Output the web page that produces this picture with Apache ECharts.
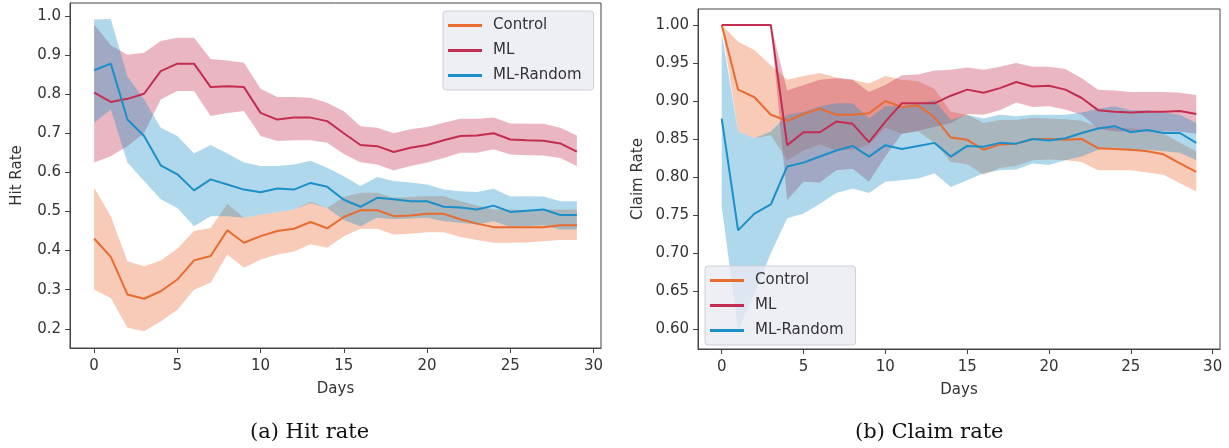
<!DOCTYPE html>
<html>
<head>
<meta charset="utf-8">
<script src="https://cdn.jsdelivr.net/npm/echarts@6/dist/echarts.min.js"></script>
<style>
  html, body { margin: 0; background: #fff; }
  #chart-container { width: 1229px; height: 448px; }
</style>
</head>
<body>
<div id="chart-container"></div>
<script>
// days on the x axis
const days = [0, 1, 2, 3, 4, 5, 6, 7, 8, 9, 10, 11, 12, 13, 14, 15, 16, 17, 18, 19, 20, 21, 22, 23, 24, 25, 26, 27, 28, 29];
const seriesNames = ["Control", "ML", "ML-Random"];
const xTicks = [0, 5, 10, 15, 20, 25, 30];
const hitTicks = [0.2, 0.3, 0.4, 0.5, 0.6, 0.7, 0.8, 0.9, 1.0];
const claimTicks = [0.6, 0.65, 0.7, 0.75, 0.8, 0.85, 0.9, 0.95, 1.0];

// (a) hit rate
const hitControl = [0.431, 0.384, 0.288, 0.277, 0.296, 0.326, 0.375, 0.386, 0.452, 0.420, 0.437, 0.450, 0.456, 0.473, 0.457, 0.486, 0.503, 0.503, 0.488, 0.490, 0.494, 0.494, 0.480, 0.469, 0.460, 0.460, 0.460, 0.460, 0.465, 0.465];
const hitControlHi = [0.561, 0.488, 0.373, 0.360, 0.375, 0.405, 0.450, 0.458, 0.520, 0.484, 0.492, 0.498, 0.505, 0.525, 0.509, 0.537, 0.548, 0.548, 0.535, 0.537, 0.539, 0.539, 0.526, 0.515, 0.505, 0.505, 0.504, 0.505, 0.505, 0.505];
const hitControlLo = [0.300, 0.279, 0.203, 0.194, 0.219, 0.249, 0.300, 0.318, 0.390, 0.356, 0.377, 0.390, 0.398, 0.416, 0.407, 0.437, 0.456, 0.456, 0.441, 0.443, 0.447, 0.447, 0.435, 0.427, 0.420, 0.420, 0.421, 0.424, 0.427, 0.427];

const hitML = [0.804, 0.780, 0.788, 0.801, 0.859, 0.878, 0.878, 0.818, 0.820, 0.818, 0.752, 0.735, 0.740, 0.740, 0.731, 0.700, 0.670, 0.667, 0.652, 0.663, 0.670, 0.682, 0.693, 0.694, 0.700, 0.684, 0.682, 0.681, 0.674, 0.653];
const hitMLHi = [0.978, 0.925, 0.901, 0.906, 0.936, 0.944, 0.944, 0.890, 0.886, 0.880, 0.814, 0.793, 0.793, 0.791, 0.778, 0.756, 0.718, 0.714, 0.700, 0.710, 0.716, 0.727, 0.737, 0.737, 0.740, 0.725, 0.724, 0.724, 0.714, 0.694];
const hitMLLo = [0.625, 0.641, 0.667, 0.700, 0.786, 0.808, 0.808, 0.744, 0.752, 0.757, 0.693, 0.680, 0.682, 0.682, 0.676, 0.647, 0.626, 0.620, 0.605, 0.616, 0.625, 0.637, 0.650, 0.650, 0.659, 0.646, 0.644, 0.643, 0.637, 0.616];

const hitRandom = [0.861, 0.878, 0.735, 0.693, 0.618, 0.595, 0.554, 0.582, 0.569, 0.556, 0.549, 0.559, 0.556, 0.573, 0.563, 0.530, 0.512, 0.535, 0.531, 0.526, 0.526, 0.512, 0.510, 0.505, 0.515, 0.499, 0.502, 0.505, 0.491, 0.491];
const hitRandomHi = [0.991, 0.992, 0.846, 0.786, 0.714, 0.693, 0.648, 0.670, 0.648, 0.625, 0.616, 0.616, 0.620, 0.630, 0.612, 0.590, 0.565, 0.588, 0.578, 0.574, 0.569, 0.556, 0.552, 0.550, 0.558, 0.538, 0.539, 0.538, 0.526, 0.526];
const hitRandomLo = [0.727, 0.761, 0.625, 0.578, 0.531, 0.509, 0.462, 0.488, 0.488, 0.484, 0.492, 0.498, 0.505, 0.522, 0.509, 0.478, 0.462, 0.484, 0.480, 0.482, 0.484, 0.475, 0.471, 0.467, 0.475, 0.461, 0.462, 0.465, 0.454, 0.454];

// (b) claim rate
const claimControl = [1.000, 0.915, 0.905, 0.882, 0.874, 0.883, 0.890, 0.882, 0.882, 0.884, 0.900, 0.892, 0.894, 0.879, 0.852, 0.849, 0.836, 0.843, 0.844, 0.850, 0.850, 0.849, 0.850, 0.838, 0.837, 0.836, 0.834, 0.830, 0.818, 0.807];
const claimControlHi = [1.000, 0.978, 0.967, 0.947, 0.928, 0.933, 0.937, 0.931, 0.928, 0.923, 0.933, 0.928, 0.926, 0.916, 0.886, 0.882, 0.871, 0.875, 0.875, 0.878, 0.877, 0.876, 0.874, 0.866, 0.865, 0.864, 0.862, 0.857, 0.845, 0.834];
const claimControlLo = [1.000, 0.860, 0.851, 0.855, 0.822, 0.835, 0.843, 0.835, 0.836, 0.843, 0.865, 0.857, 0.860, 0.845, 0.820, 0.817, 0.803, 0.812, 0.815, 0.822, 0.823, 0.822, 0.820, 0.809, 0.809, 0.809, 0.806, 0.803, 0.792, 0.781];

const claimML = [1.000, 1.000, 1.000, 1.000, 0.842, 0.859, 0.859, 0.873, 0.870, 0.846, 0.873, 0.897, 0.897, 0.897, 0.907, 0.915, 0.911, 0.917, 0.925, 0.919, 0.920, 0.915, 0.904, 0.888, 0.886, 0.885, 0.886, 0.886, 0.887, 0.883];
const claimMLHi = [1.000, 1.000, 1.000, 1.000, 0.914, 0.921, 0.928, 0.930, 0.928, 0.912, 0.921, 0.934, 0.935, 0.940, 0.941, 0.944, 0.941, 0.945, 0.950, 0.945, 0.945, 0.942, 0.930, 0.915, 0.914, 0.912, 0.912, 0.912, 0.911, 0.908];
const claimMLLo = [1.000, 1.000, 1.000, 1.000, 0.770, 0.794, 0.793, 0.809, 0.811, 0.794, 0.827, 0.857, 0.861, 0.866, 0.871, 0.883, 0.882, 0.888, 0.898, 0.892, 0.893, 0.889, 0.882, 0.864, 0.860, 0.860, 0.860, 0.860, 0.860, 0.857];

const claimRandom = [0.877, 0.730, 0.752, 0.764, 0.814, 0.819, 0.827, 0.835, 0.841, 0.827, 0.842, 0.837, 0.841, 0.845, 0.827, 0.841, 0.840, 0.845, 0.844, 0.850, 0.848, 0.851, 0.858, 0.864, 0.867, 0.859, 0.862, 0.858, 0.858, 0.845];
const claimRandomHi = [0.989, 0.860, 0.851, 0.860, 0.882, 0.886, 0.893, 0.897, 0.897, 0.877, 0.893, 0.893, 0.897, 0.901, 0.875, 0.882, 0.877, 0.882, 0.880, 0.882, 0.882, 0.882, 0.885, 0.890, 0.893, 0.888, 0.888, 0.885, 0.882, 0.871];
const claimRandomLo = [0.761, 0.599, 0.647, 0.700, 0.746, 0.752, 0.765, 0.779, 0.785, 0.779, 0.794, 0.796, 0.798, 0.805, 0.787, 0.796, 0.805, 0.809, 0.810, 0.818, 0.816, 0.822, 0.827, 0.836, 0.839, 0.834, 0.836, 0.834, 0.832, 0.822];

const colors = ["#e86b30", "#c22d51", "#1b90c8"];
const font = "DejaVu Sans";
const axisColor = "#444";

var dom = document.getElementById("chart-container");
var myChart = echarts.init(dom, null, { renderer: "canvas" });

const pairs = (arr) => days.map((d, i) => [d, arr[i]]);

// shaded band drawn as one polygon (upper edge forward, lower edge back)
const makeBand = (idx, name, color, lo, hi) => ({
  name: name + " band", type: "custom", xAxisIndex: idx, yAxisIndex: idx,
  data: days.map((d, i) => [d, lo[i], hi[i]]),
  encode: { x: 0, y: [1, 2] },
  silent: true, z: 1,
  renderItem: (params, api) => {
    if (params.dataIndex !== 0) return;
    const pts = [];
    days.forEach((d, i) => pts.push(api.coord([d, hi[i]])));
    for (let i = days.length - 1; i >= 0; i--) pts.push(api.coord([days[i], lo[i]]));
    return {
      type: "polygon",
      shape: { points: pts },
      style: { fill: color, opacity: 0.35 }
    };
  }
});

const makeSeries = (idx, name, color, line, lo, hi) => [
  makeBand(idx, name, color, lo, hi),
  {
    name: name, type: "line", xAxisIndex: idx, yAxisIndex: idx,
    data: pairs(line), symbol: "none", color: color,
    lineStyle: { width: 2, color: color }, z: 3
  }
];

const xAxisFor = (idx) => ({
  gridIndex: idx, type: "value", min: -1.45, max: 30.45,
  splitLine: { show: false },
  axisLine: { show: true, onZero: false, lineStyle: { color: axisColor } },
  axisTick: { show: true, length: 5, customValues: xTicks, lineStyle: { color: axisColor } },
  axisLabel: { customValues: xTicks, margin: 11, fontSize: 15, color: "#333", fontFamily: font },
  name: "Days", nameLocation: "middle", nameGap: 34,
  nameTextStyle: { fontSize: 15, color: "#333", fontFamily: font }
});

const yAxisFor = (idx, min, max, ticks, digits, name, gap) => ({
  gridIndex: idx, type: "value", min: min, max: max,
  splitLine: { show: false },
  axisLine: { show: true, onZero: false, lineStyle: { color: axisColor } },
  axisTick: { show: true, length: 5, customValues: ticks, lineStyle: { color: axisColor } },
  axisLabel: {
    customValues: ticks, margin: 9, fontSize: 15, color: "#333", fontFamily: font,
    formatter: (v) => v.toFixed(digits)
  },
  name: name, nameLocation: "middle", nameGap: gap, nameRotate: 90,
  nameTextStyle: { fontSize: 15, color: "#333", fontFamily: font }
});

const legendFor = (left, top) => ({
  data: seriesNames, orient: "vertical", left: left, top: top,
  itemWidth: 34, itemHeight: 3, icon: "rect", itemGap: 10,
  padding: [7, 12, 7, 5],
  backgroundColor: "rgba(234,234,242,0.8)", borderColor: "#cfcfd8", borderWidth: 1, borderRadius: 3,
  textStyle: { fontSize: 15, color: "#333", fontFamily: font, padding: [0, 0, 0, 6] },
  selectedMode: false
});

var option = {
  animation: false,
  backgroundColor: "#fff",
  grid: [
    { left: 70, top: 3, width: 531, height: 345, show: true, borderColor: axisColor, borderWidth: 1 },
    { left: 698, top: 9, width: 522, height: 340, show: true, borderColor: axisColor, borderWidth: 1 }
  ],
  xAxis: [xAxisFor(0), xAxisFor(1)],
  yAxis: [
    yAxisFor(0, 0.151, 1.033, hitTicks, 1, "Hit Rate", 45),
    yAxisFor(1, 0.574, 1.021, claimTicks, 2, "Claim Rate", 52)
  ],
  legend: [legendFor(443, 11), legendFor(705, 266)],
  series: [].concat(
    makeSeries(0, "Control", colors[0], hitControl, hitControlLo, hitControlHi),
    makeSeries(0, "ML", colors[1], hitML, hitMLLo, hitMLHi),
    makeSeries(0, "ML-Random", colors[2], hitRandom, hitRandomLo, hitRandomHi),
    makeSeries(1, "Control", colors[0], claimControl, claimControlLo, claimControlHi),
    makeSeries(1, "ML", colors[1], claimML, claimMLLo, claimMLHi),
    makeSeries(1, "ML-Random", colors[2], claimRandom, claimRandomLo, claimRandomHi)
  ),
  graphic: [
    {
      type: "text", left: 250, top: 422,
      style: { text: "(a) Hit rate", fontSize: 21, fontFamily: "DejaVu Serif", fill: "#111" }
    },
    {
      type: "text", left: 855, top: 422,
      style: { text: "(b) Claim rate", fontSize: 21, fontFamily: "DejaVu Serif", fill: "#111" }
    }
  ]
};

myChart.setOption(option);
window.addEventListener("resize", myChart.resize);
</script>
</body>
</html>
